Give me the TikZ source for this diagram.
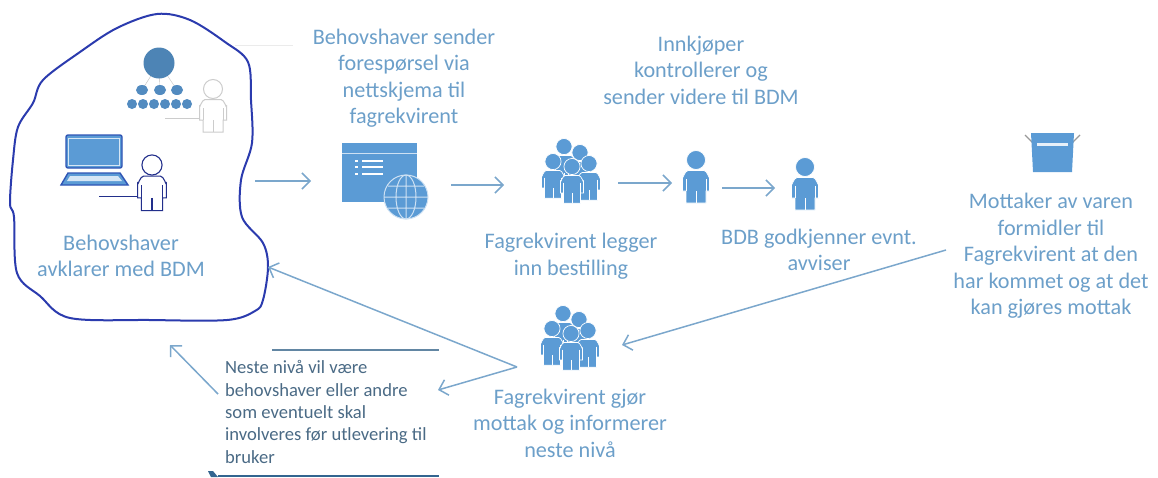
\documentclass[tikz,border=0pt]{standalone}
\usepackage{fontspec}
\setmainfont{Carlito}
\usetikzlibrary{arrows.meta}
\definecolor{iconblue}{HTML}{5B9BD5}
\definecolor{textblue}{HTML}{6C9FC9}
\definecolor{lineblue}{HTML}{7BA7CC}
\definecolor{blobblue}{HTML}{2B3BAE}
\definecolor{darkblue}{HTML}{2F55B5}
\definecolor{notegrey}{HTML}{4A6A85}
\tikzset{
   person/.pic={
      \path[pic actions] (0,-17) circle (9.5);
      \path[pic actions] (-13.5,14) -- (-13.5,0) to[out=-90,in=180] (-8,-6.5) -- (8,-6.5)
         to[out=0,in=-90] (13.5,0) -- (13.5,14) -- (10,14) -- (10,26) -- (-10,26) -- (-10,14) -- cycle;
      \path[pic actions, fill=none] (-10,2) -- (-10,14) (10,2) -- (10,14) (0,14) -- (0,26);
   },
   crowd/.pic={
      \pic[solidperson, scale=0.85] at (-6,-12) {person};
      \pic[solidperson, scale=0.85] at (10,-6) {person};
      \pic[solidperson, scale=0.85] at (-17,3) {person};
      \pic[solidperson, scale=0.85] at (19,5) {person};
      \pic[solidperson, scale=0.85] at (2,8) {person};
   },
   solidperson/.style={fill=iconblue, draw=white, line width=0.7pt},
   outlineperson/.style={fill=white, draw=blobblue!80!black, line width=1.1pt},
   greyperson/.style={fill=white, draw=black!20, line width=1pt}
}
\begin{document}
\begin{tikzpicture}[x=1pt, y=-1pt,
   bluetext/.style={text=textblue, align=center, font=\fontsize{22.2}{26.5}\selectfont, inner sep=0pt},
   notetext/.style={text=notegrey, align=left, font=\fontsize{18.6}{22.3}\selectfont, inner sep=0pt},
   iconbox/.style={inner sep=0pt, outer sep=0pt, minimum height=10pt},
   flow/.style={draw=lineblue, line width=1.5pt, -{Straight Barb[length=8pt,width=16pt]}},
   rule/.style={line width=2pt}]
   \useasboundingbox (0,0) rectangle (1158,477);

   \draw[blobblue, line width=2pt, fill=white] plot[smooth cycle, tension=0.55] coordinates {
      (157,14) (190,20) (225,42) (248,62) (251,100) (252,143) (241,180) (242,217)
      (263,243) (268,267) (263,300) (255,311) (227,320) (150,320) (70,318) (40,296)
      (17,273) (14,217) (10,203) (13,160) (18,127) (33,103) (43,80) (80,52) (117,28)};
   \draw[black!8] (235,45) -- (293,45);

   \draw[black!25] (159,63) -- (142,90) (159,63) -- (160,90) (159,63) -- (177,90);
   \fill[iconblue!85!black] (159,63) circle (15.5);
   \foreach \x in {142,160,177} \fill[iconblue!90!black] (\x,90) ellipse (6 and 5);
   \foreach \x in {132,143,154,165,176,187} \fill[iconblue!90!black] (\x,104) circle (5);
   \draw[black!20, line width=1pt] (165,118) -- (200,118);
   \pic[greyperson] at (213,106) {person};

   \draw[darkblue, fill=iconblue, line width=1.4pt, rounded corners=2pt] (66,135) rectangle (122,168);
   \draw[white!75!iconblue] (68.5,138) rectangle (119,165.5);
   \draw[darkblue, fill=iconblue, line width=1.4pt] (68,173) -- (120,173) -- (128,185) -- (61,185) -- cycle;
   \fill[white!75!iconblue] (70,176) -- (118,176) -- (122,181) -- (67,181) -- cycle;
   \draw[blobblue!80!black, line width=1pt] (99,196) -- (139,196);
   \pic[outlineperson, scale=1.06] at (152,183) {person};

   \fill[iconblue] (342,143) rectangle (417,202);
   \draw[white!70!iconblue] (342,153) -- (417,153);
   \foreach \y in {161,167,174} {
      \fill[white] (355,\y-1) rectangle (358,\y+1);
      \fill[white] (362,\y-1) rectangle (383,\y+1);
   }
   \draw[white!70!iconblue, fill=iconblue, line width=1pt] (406,197) circle (22);
   \draw[white!70!iconblue, line width=1pt] (406,197) ellipse (10 and 22) (384,197) -- (428,197) (406,175) -- (406,219)
      (388,186) -- (424,186) (388,208) -- (424,208);

   \pic at (570,173) {crowd};
   \pic at (569,340) {crowd};
   \pic[solidperson] at (696,177) {person};
   \pic[solidperson] at (805,184) {person};

   \draw[black!40, line width=1.2pt] (1025,135) -- (1033,143) (1080,135) -- (1072,143);
   \fill[iconblue] (1031,133) -- (1074,133) -- (1072,172) -- (1033,172) -- cycle;
   \fill[white!85!iconblue] (1037,143) rectangle (1068,146);

   \node[bluetext] (sender) at (404,78) {Behovshaver sender\\forespørsel via\\nettskjema til\\fagrekvirent};
   \node[bluetext] (innkjoper) at (701,70) {Innkjøper\\kontrollerer og\\sender videre til BDM};
   \node[bluetext] (legger) at (571,256) {Fagrekvirent legger\\inn bestilling};
   \node[bluetext] (godkjenner) at (819,250) {BDB godkjenner evnt.\\avviser};
   \node[bluetext] (mottaker) at (1051,256) {Mottaker av varen\\formidler til\\Fagrekvirent at den\\har kommet og at det\\kan gjøres mottak};
   \node[bluetext] (avklarer) at (121,256) {Behovshaver\\avklarer med BDM};
   \node[bluetext] (informerer) at (570,423) {Fagrekvirent gjør\\mottak og informerer\\neste nivå};
   \node[notetext, anchor=west] (note) at (225,412) {Neste nivå vil være\\behovshaver eller andre\\som eventuelt skal\\involveres før utlevering til\\bruker};

   \node[iconbox, minimum width=140pt] (web) at (381,185) {};
   \node[iconbox, minimum width=114pt] (groupa) at (561,185) {};
   \node[iconbox, minimum width=50pt] (persona) at (697,183) {};
   \node[iconbox, minimum width=53pt] (personb) at (801.5,188) {};
   \coordinate (blobout) at (255,181);
   \coordinate (blobin) at (268,267);
   \coordinate (varen) at (946,250);
   \coordinate (groupb) at (622,345);
   \coordinate (fork) at (517,367);
   \coordinate (noteout) at (438,390);
   \coordinate (notefrom) at (218,394);
   \coordinate (noteup) at (170,345);

   \draw[flow] (blobout) -- (blobout -| web.west);
   \draw[flow] (web.east) -- (groupa.west);
   \draw[flow] (groupa.east |- persona) -- (persona.west);
   \draw[flow] (persona.east |- personb) -- (personb.west);
   \draw[flow] (varen) -- (groupb);
   \draw[flow] (fork) -- (blobin);
   \draw[flow] (fork) -- (noteout);
   \draw[flow] (notefrom) -- (noteup);

   \draw[rule, draw=lineblue!80!black] (272,350) -- (439,350);
   \draw[rule, draw=blue!30!teal!70!black!80] (218,476) -- (439,476);
   \fill[blue!30!teal!70!black!80] (208,471) -- (213,471) -- (218,477) -- (211,477) -- cycle;
\end{tikzpicture}
\end{document}
